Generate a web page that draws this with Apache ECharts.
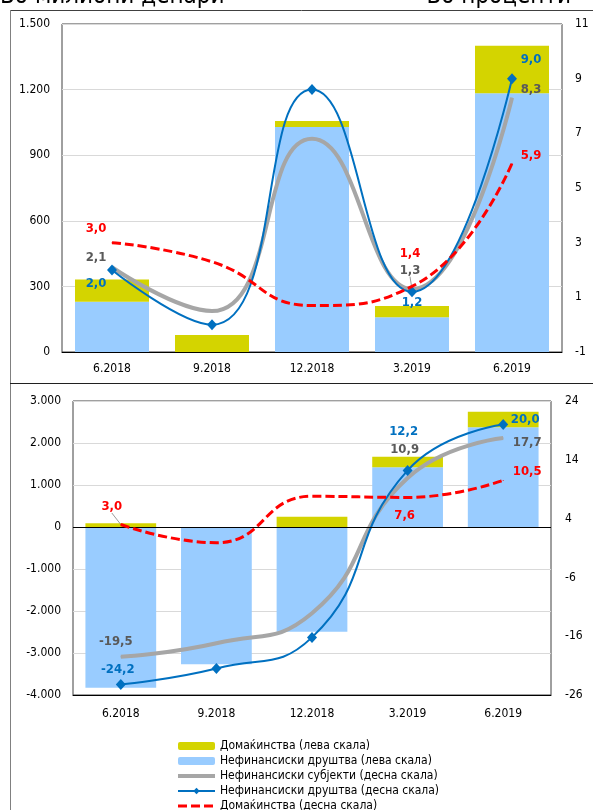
<!DOCTYPE html>
<html>
<head>
<meta charset="utf-8">
<script src="https://cdn.jsdelivr.net/npm/echarts@6/dist/echarts.min.js"></script>
<style>
  html, body { margin: 0; padding: 0; background: #fff; }
  #chart { width: 593px; height: 810px; }
</style>
</head>
<body>
<div id="chart"></div>
<script>
// Квартали
const categories = ['6.2018', '9.2018', '12.2018', '3.2019', '6.2019'];

// Горен графикон: промена во милиони денари (лева скала) и стапки во проценти (десна скала)
const topHouseholdsBar = [102, 78, 27, 51, 218];
const topCorporatesBar = [230, 0, 1029, 159, 1183];
const topNonFinancialPct = [2.1, 0.5, 6.8, 1.3, 8.3];
const topCorporatesPct = [2.0, 0.0, 8.6, 1.2, 9.0];
const topHouseholdsPct = [3.0, 2.3, 0.7, 1.4, 5.9];

// Долен графикон
const bottomHouseholdsBar = [88, 0, 245, 253, 371];
const bottomCorporatesBar = [-3826, -3269, -2492, 1421, 2374];
const bottomNonFinancialPct = [-19.5, -17.2, -12.1, 10.9, 17.7];
const bottomCorporatesPct = [-24.2, -21.5, -16.2, 12.2, 20.0];
const bottomHouseholdsPct = [3.0, -0.1, 7.8, 7.6, 10.5];

// Ознаки на десните скали
const topRightTicks = [-1, 1, 3, 5, 7, 9, 11];
const bottomRightTicks = [-26, -16, -6, 4, 14, 24];

const names = {
  hhBar: 'Домаќинства (лева скала)',
  corpBar: 'Нефинансиски друштва (лева скала)',
  nonFin: 'Нефинансиски субјекти (десна скала)',
  corpLine: 'Нефинансиски друштва (десна скала)',
  hhLine: 'Домаќинства (десна скала)'
};

const FONT = "'DejaVu Sans Condensed', 'DejaVu Sans', sans-serif";
const BLUE = '#0070C0', GRAY = '#A6A6A6', GRAY_TXT = '#595959', RED = '#FF0000';
const LIGHT_BLUE = '#99CCFF', YELLOW = '#D4D400';

// Поместувања на ознаките со вредности (во пиксели, во однос на точката)
const labelOffsets = {
  topNonFin: { 0: [-16, -10], 3: [-2, -19], 4: [19, -8.5] },
  topCorp:   { 0: [-16, 14], 3: [0, 11], 4: [19, -19] },
  topHh:     { 0: [-16, -14], 3: [-2, -33], 4: [19, -8] },
  botNonFin: { 0: [-5, -15], 3: [-3, -28], 4: [24, 5] },
  botCorp:   { 0: [-3, -15], 3: [-4, -39], 4: [22, -4.5] },
  botHh:     { 0: [-9, -18], 3: [-3, 18], 4: [24, -9] }
};
// Ознаки поврзани со тенка линија до точката
const leaderLabels = { topNonFin: 3, botHh: 0 };

function thousands(v) {
  const s = Math.abs(v).toString().replace(/\B(?=(\d{3})+(?!\d))/g, '.');
  return (v < 0 ? '-' : '') + s;
}
function pct(p) {
  return Number(p.value).toFixed(1).replace('.', ',');
}

function buildLineData(values, key, pointSymbol) {
  const offs = labelOffsets[key] || {};
  return values.map(function (v, i) {
    if (!offs[i]) return v;
    const item = { value: v, label: { show: true } };
    if (pointSymbol) {
      item.symbol = 'circle';
      item.symbolSize = 1;
    }
    if (leaderLabels[key] === i) item.labelLine = { show: true };
    return item;
  });
}

function lineSeries(kind, values, key, xi, yi) {
  const offs = labelOffsets[key] || {};
  const base = {
    type: 'line',
    xAxisIndex: xi,
    yAxisIndex: yi,
    smooth: true,
    z: kind === 'hh' ? 5 : (kind === 'corp' ? 4 : 3),
    data: buildLineData(values, key, kind !== 'corp'),
    label: {
      show: false,
      position: 'inside',
      formatter: pct,
      fontFamily: FONT,
      fontSize: 13,
      fontWeight: 'bold'
    },
    labelLine: {
      show: false,
      length2: 0,
      smooth: false,
      lineStyle: { color: '#808080', width: 0.8 }
    },
    labelLayout: function (p) {
      const o = offs[p.dataIndex];
      return o ? { dx: o[0], dy: o[1] } : {};
    },
    emphasis: { disabled: true }
  };
  if (kind === 'nonFin') {
    base.name = names.nonFin;
    base.symbol = 'none';
    base.itemStyle = { color: GRAY };
    base.lineStyle = { color: GRAY, width: 4 };
    base.label.color = GRAY_TXT;
  } else if (kind === 'corp') {
    base.name = names.corpLine;
    base.symbol = 'diamond';
    base.symbolSize = [10, 11];
    base.itemStyle = { color: BLUE };
    base.lineStyle = { color: BLUE, width: 2 };
    base.label.color = BLUE;
  } else {
    base.name = names.hhLine;
    base.symbol = 'none';
    base.itemStyle = { color: RED };
    base.lineStyle = { color: RED, width: 3, type: [9, 4] };
    base.label.color = RED;
  }
  return base;
}

function barSeries(name, values, color, stack, xi, yi, extra) {
  return Object.assign({
    type: 'bar',
    name: name,
    xAxisIndex: xi,
    yAxisIndex: yi,
    stack: stack,
    barWidth: '74%',
    itemStyle: { color: color },
    emphasis: { disabled: true },
    data: values
  }, extra || {});
}

const axisLabelStyle = { fontFamily: FONT, fontSize: 12, color: '#000' };

const chart = echarts.init(document.getElementById('chart'), null, { renderer: 'canvas' });

chart.setOption({
  animation: false,
  backgroundColor: '#fff',
  textStyle: { fontFamily: FONT },
  graphic: [
    { type: 'text', x: 0, y: 9, style: { text: 'Во милиони денари', font: "24px " + FONT, fill: '#000', verticalAlign: 'bottom' } },
    { type: 'text', x: 571, y: 9, style: { text: 'Во проценти', font: "24px " + FONT, fill: '#000', align: 'right', verticalAlign: 'bottom' } },
    { type: 'line', shape: { x1: 10, y1: 10.5, x2: 593, y2: 10.5 }, style: { stroke: '#404040', lineWidth: 1 } },
    { type: 'line', shape: { x1: 10.5, y1: 10, x2: 10.5, y2: 810 }, style: { stroke: '#808080', lineWidth: 1 } },
    { type: 'line', shape: { x1: 10, y1: 383.5, x2: 593, y2: 383.5 }, style: { stroke: '#202020', lineWidth: 1.2 } }
  ],
  grid: [
    { left: 62, top: 24, width: 500, height: 328, show: true, borderColor: '#404040', borderWidth: 1, backgroundColor: 'transparent' },
    { left: 73, top: 401, width: 478, height: 294, show: true, borderColor: '#404040', borderWidth: 1, backgroundColor: 'transparent' }
  ],
  legend: {
    orient: 'vertical',
    left: 176,
    top: 740,
    height: 90,
    itemWidth: 37,
    itemHeight: 8,
    itemGap: 3,
    padding: 0,
    selectedMode: false,
    lineStyle: { width: 'inherit' },
    textStyle: { fontFamily: FONT, fontSize: 12, color: '#000' },
    data: [
      names.hhBar,
      names.corpBar,
      { name: names.nonFin, itemStyle: { opacity: 0 } },
      names.corpLine,
      { name: names.hhLine, itemStyle: { opacity: 0 } }
    ]
  },
  xAxis: [
    {
      type: 'category', gridIndex: 0, data: categories,
      axisLine: { show: true, lineStyle: { color: '#000', width: 1 } },
      axisTick: { show: false },
      axisLabel: Object.assign({ margin: 11 }, axisLabelStyle)
    },
    {
      type: 'category', gridIndex: 1, data: categories,
      axisLine: { show: true, onZero: false, lineStyle: { color: '#000', width: 1 } },
      axisTick: { show: false },
      axisLabel: Object.assign({ margin: 13 }, axisLabelStyle)
    }
  ],
  yAxis: [
    {
      type: 'value', gridIndex: 0, min: 0, max: 1500, interval: 300,
      axisLine: { show: false }, axisTick: { show: false },
      splitLine: { show: true, lineStyle: { color: '#D9D9D9', width: 1 } },
      axisLabel: Object.assign({ margin: 12, formatter: thousands }, axisLabelStyle)
    },
    {
      type: 'value', gridIndex: 0, min: -1, max: 11, position: 'right',
      axisLine: { show: false }, axisTick: { show: false }, splitLine: { show: false },
      axisLabel: Object.assign({ margin: 13, customValues: topRightTicks }, axisLabelStyle)
    },
    {
      type: 'value', gridIndex: 1, min: -4000, max: 3000, interval: 1000,
      axisLine: { show: false }, axisTick: { show: false },
      splitLine: { show: true, lineStyle: { color: '#D9D9D9', width: 1 } },
      axisLabel: Object.assign({ margin: 12, formatter: thousands }, axisLabelStyle)
    },
    {
      type: 'value', gridIndex: 1, min: -26, max: 24, position: 'right',
      axisLine: { show: false }, axisTick: { show: false }, splitLine: { show: false },
      axisLabel: Object.assign({ margin: 14, customValues: bottomRightTicks }, axisLabelStyle)
    }
  ],
  series: [
    barSeries(names.corpBar, topCorporatesBar, LIGHT_BLUE, 'top', 0, 0),
    barSeries(names.hhBar, topHouseholdsBar, YELLOW, 'top', 0, 0),
    lineSeries('nonFin', topNonFinancialPct, 'topNonFin', 0, 1),
    lineSeries('corp', topCorporatesPct, 'topCorp', 0, 1),
    lineSeries('hh', topHouseholdsPct, 'topHh', 0, 1),

    barSeries(names.corpBar, bottomCorporatesBar, LIGHT_BLUE, 'bottom', 1, 2, {
      markLine: {
        silent: true,
        symbol: 'none',
        label: { show: false },
        lineStyle: { color: '#000', width: 1, type: 'solid' },
        data: [{ yAxis: 0 }]
      }
    }),
    barSeries(names.hhBar, bottomHouseholdsBar, YELLOW, 'bottom', 1, 2),
    lineSeries('nonFin', bottomNonFinancialPct, 'botNonFin', 1, 3),
    lineSeries('corp', bottomCorporatesPct, 'botCorp', 1, 3),
    lineSeries('hh', bottomHouseholdsPct, 'botHh', 1, 3)
  ]
});
</script>
</body>
</html>
